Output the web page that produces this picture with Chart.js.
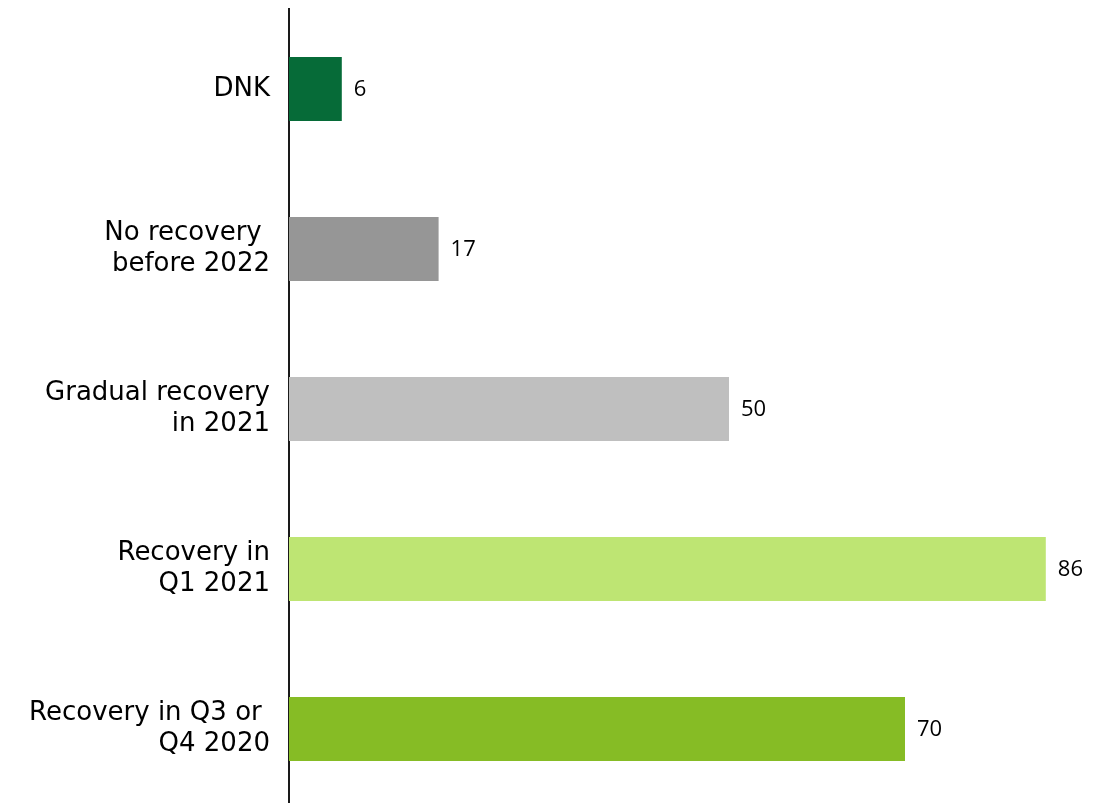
<!DOCTYPE html>
<html>
<head>
<meta charset="utf-8">
<script src="https://cdn.jsdelivr.net/npm/chart.js@4/dist/chart.umd.min.js"></script>
<style>
  html, body { margin: 0; padding: 0; background: #fff; overflow: hidden; }
  #wrap { width: 1114px; height: 803px; overflow: hidden; }
  canvas { display: block; }
</style>
</head>
<body>
<div id="wrap"><canvas id="chart" width="1114" height="818"></canvas></div>
<script>
// Survey answers: expected timing of recovery
const categories = [
  ['DNK'],
  ['No recovery ', 'before 2022'],
  ['Gradual recovery', 'in 2021'],
  ['Recovery in', 'Q1 2021'],
  ['Recovery in Q3 or ', 'Q4 2020']
];
const values = [6, 17, 50, 86, 70];
const barColors = ['#066B38', '#969696', '#BFBFBF', '#BEE573', '#86BC25'];

// Writes each bar's value just past its end
const valueLabels = {
  id: 'valueLabels',
  afterDatasetsDraw(chart) {
    const ctx = chart.ctx;
    const meta = chart.getDatasetMeta(0);
    ctx.save();
    ctx.font = '22px "Open Sans"';
    ctx.fillStyle = '#000';
    ctx.textAlign = 'left';
    ctx.textBaseline = 'middle';
    meta.data.forEach((bar, i) => {
      ctx.fillText(String(values[i]), bar.x + 12, bar.y + 1);
    });
    ctx.restore();
  }
};

new Chart(document.getElementById('chart'), {
  type: 'bar',
  data: {
    labels: categories,
    datasets: [{
      data: values,
      backgroundColor: barColors,
      borderWidth: 0,
      barPercentage: 0.4,
      categoryPercentage: 1.0
    }]
  },
  options: {
    indexAxis: 'y',
    responsive: false,
    animation: false,
    layout: { padding: { top: 9, bottom: 9, left: 0, right: 33 } },
    plugins: {
      legend: { display: false },
      tooltip: { enabled: false }
    },
    scales: {
      x: {
        display: false,
        min: 0,
        max: 90
      },
      y: {
        afterFit(scale) {
          // fixed label column; the tall two-line labels must not push the plot inward
          scale.width = 289;
          scale.paddingTop = 0;
          scale.paddingBottom = 0;
        },
        grid: { display: false, drawTicks: false },
        border: { display: true, color: '#1a1a1a', width: 2 },
        ticks: {
          padding: 19,
          color: '#000',
          font: { family: '"DejaVu Sans"', size: 26, lineHeight: 1.2 }
        }
      }
    }
  },
  plugins: [valueLabels]
});
</script>
</body>
</html>
